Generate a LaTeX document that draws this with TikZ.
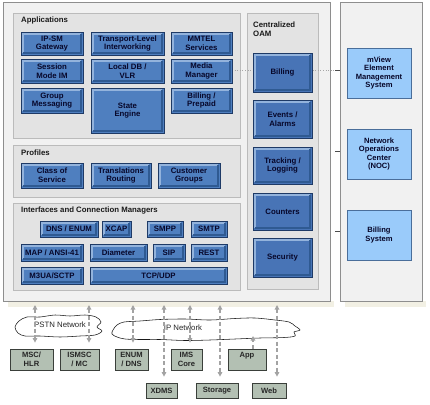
\documentclass[tikz,border=0pt]{standalone}
\usepackage{fontspec}
\setmainfont{Liberation Sans}
\usetikzlibrary{arrows.meta}
\definecolor{bblue}{HTML}{4F7FBF}
\definecolor{oblue}{HTML}{4874B6}
\definecolor{blight}{HTML}{93B3DC}
\definecolor{bshade}{HTML}{2F5A92}
\definecolor{bdark}{HTML}{1E3A66}
\definecolor{navy}{HTML}{07072A}
\definecolor{lblue}{HTML}{9ACBFA}
\definecolor{lborder}{HTML}{4A6E9A}
\definecolor{panelc}{HTML}{E3E3E3}
\definecolor{panelb}{HTML}{BBBBBB}
\definecolor{framec}{HTML}{F1F1F1}
\definecolor{frameb}{HTML}{8E8E8E}
\definecolor{shadowc}{HTML}{F2F0E4}
\definecolor{gfill}{HTML}{B3C0B3}
\definecolor{gborder}{HTML}{3A3F3A}
\definecolor{agray}{HTML}{A3A3A3}
\newcommand\BX[7]{\node[#1, minimum width={#5pt-#3pt}, minimum height={#6pt-#4pt}] (#2) at ({(#3+#5)/2},{(#4+#6)/2}) {#7};}
\tikzset{
  bevel/.style={path picture={
    \coordinate (ppnw) at ([shift={(1.8pt,-1.8pt)}]path picture bounding box.north west);
    \coordinate (ppse) at ([shift={(-1.8pt,1.8pt)}]path picture bounding box.south east);
    \draw[blight,line width=1.6pt] (ppnw |- ppse) -- (ppnw) -- (ppse |- ppnw);
    \draw[bshade,line width=1.6pt] (ppnw |- ppse) -- (ppse) -- (ppse |- ppnw);}},
  appbox/.style={draw=bdark, fill=bblue, line width=0.8pt, text=navy, bevel,
    font=\bfseries\fontsize{7.8}{8.6}\selectfont, align=center, inner sep=0pt},
  oambox/.style={appbox, fill=oblue},
  lbox/.style={draw=lborder, fill=lblue, line width=0.8pt, text=navy,
    font=\bfseries\fontsize{7.6}{8.6}\selectfont, align=center, inner sep=0pt},
  gbox/.style={draw=gborder, fill=gfill, line width=0.8pt, text=black!85,
    font=\bfseries\fontsize{7.6}{8.6}\selectfont, align=center, inner sep=0pt},
  panel/.style={draw=panelb, fill=panelc, line width=0.8pt, inner sep=0pt},
  framebox/.style={draw=frameb, fill=framec, line width=0.8pt, inner sep=0pt},
  ttl/.style={font=\bfseries\fontsize{7.8}{9}\selectfont, text=black!90, inner sep=0pt, align=left},
  arr/.style={draw=agray, line width=1.3pt, dash pattern=on 4pt off 2.5pt,
    {Triangle[width=4.5pt,length=4.5pt]}-{Triangle[width=4.5pt,length=4.5pt]}, shorten >=6pt},
  arru/.style={draw=agray, line width=1.3pt, dash pattern=on 4pt off 2.5pt,
    -{Triangle[width=4.5pt,length=4.5pt]}},
  dotl/.style={draw=black!35, line width=0.6pt, dotted},
  tickl/.style={draw=black!70, line width=0.6pt},
  cloudl/.style={draw=black!90, fill=white, line width=0.55pt},
  cltext/.style={font=\fontsize{7.8}{9}\selectfont, text=black!85, inner sep=0pt}
}
\begin{document}
\begin{tikzpicture}[x=1pt,y=-1pt]
\useasboundingbox[fill=white] (0,0) rectangle (430,404);
% outer frames
\fill[shadowc] (8,301) rectangle (334,307);
\fill[shadowc] (345,301) rectangle (426,307);
\BX{framebox}{fr}{3}{2}{330}{301}{}
\BX{framebox}{rp}{340}{2}{422}{301}{}
% panels
\BX{panel}{apps}{13}{13}{240}{138}{}
\BX{panel}{prof}{13}{145}{240}{197}{}
\BX{panel}{intf}{13}{203}{240}{290}{}
\BX{panel}{oam}{247}{13}{318}{289}{}
\node[ttl, anchor=west] (tapps) at (21,20.5) {Applications};
\node[ttl, anchor=west] (tprof) at (21,152.5) {Profiles};
\node[ttl, anchor=west] (tintf) at (21,210.5) {Interfaces and Connection Managers};
\node[ttl, anchor=north west] (toam) at (253,22) {Centralized\\OAM};
% dotted link and ticks
\coordinate (d0) at (232,70);
\coordinate (t1) at (335,70);
\coordinate (t2) at (335,151);
\coordinate (t3) at (335,231);
\draw[dotl] (d0) -- (t1);
\draw[tickl] (t1) -- (t1 -| rp.west);
\draw[tickl] (t2) -- (t2 -| rp.west);
\draw[tickl] (t3) -- (t3 -| rp.west);
% applications
\BX{appbox}{ipsm}{21}{32}{83}{55}{IP-SM\\Gateway}
\BX{appbox}{tli}{91}{32}{164}{55}{Transport-Level\\Interworking}
\BX{appbox}{mmtel}{171}{32}{232}{55}{MMTEL\\Services}
\BX{appbox}{smim}{21}{59}{83}{83}{Session\\Mode IM}
\BX{appbox}{ldb}{91}{59}{164}{83}{Local DB /\\VLR}
\BX{appbox}{mm}{171}{59}{232}{83}{Media\\Manager}
\BX{appbox}{gm}{21}{88}{83}{113}{Group\\Messaging}
\BX{appbox}{se}{91}{88}{164}{133}{State\\Engine}
\BX{appbox}{bp}{171}{88}{232}{113}{Billing /\\Prepaid}
% profiles
\BX{appbox}{cos}{21}{163}{83}{188}{Class of\\Service}
\BX{appbox}{tr}{91}{163}{151}{188}{Translations\\Routing}
\BX{appbox}{cg}{158}{163}{220}{188}{Customer\\Groups}
% interfaces
\BX{appbox}{dns}{40}{221}{98}{237}{DNS / ENUM}
\BX{appbox}{xcap}{102}{221}{131}{237}{XCAP}
\BX{appbox}{smpp}{147}{221}{183}{237}{SMPP}
\BX{appbox}{smtp}{191}{221}{227}{237}{SMTP}
\BX{appbox}{map}{21}{244}{83}{261}{MAP / ANSI-41}
\BX{appbox}{dia}{90}{244}{147}{261}{Diameter}
\BX{appbox}{sip}{153}{244}{185}{261}{SIP}
\BX{appbox}{rest}{191}{244}{227}{261}{REST}
\BX{appbox}{m3ua}{21}{267}{83}{284}{M3UA/SCTP}
\BX{appbox}{tcp}{90}{267}{227}{284}{TCP/UDP}
% OAM
\BX{oambox}{obill}{253}{53}{312}{92}{Billing}
\BX{oambox}{oev}{253}{100}{312}{138}{Events /\\Alarms}
\BX{oambox}{otr}{253}{147}{312}{184}{Tracking /\\Logging}
\BX{oambox}{ocnt}{253}{193}{312}{230}{Counters}
\BX{oambox}{osec}{253}{238}{312}{277}{Security}
% right panel
\BX{lbox}{mview}{347}{48}{411}{98}{mView\\Element\\Management\\System}
\BX{lbox}{noc}{347}{129}{411}{179}{Network\\Operations\\Center\\(NOC)}
\BX{lbox}{bsys}{347}{210}{411}{260}{Billing\\System}
% clouds
\draw[cloudl] plot[smooth cycle, tension=0.55] coordinates {(15,327) (19,321) (27,317) (40,317) (55,315) (70,316) (85,315) (96,317) (101,322) (97,327) (102,331) (95,335) (80,336) (60,337) (40,336) (25,336) (18,333)};
\node[cltext] (pstnl) at (60,325) {PSTN Network};
\draw[cloudl] plot[smooth cycle, tension=0.55] coordinates {(113,330) (117,325) (124,322) (140,321) (160,319.5) (185,319) (210,320) (235,318.5) (255,318) (275,320) (289,322) (295,326) (300,330) (294,332) (295,336) (284,337.5) (260,338) (235,339) (210,340) (185,340.5) (160,339.5) (140,339.5) (125,339) (117,337) (112,334)};
\node[cltext] (ipl) at (183,328) {IP Network};
% bottom boxes
\BX{gbox}{msc}{10}{349}{53}{370}{MSC/\\HLR}
\BX{gbox}{smsc}{60}{349}{99}{370}{ISMSC\\/ MC}
\BX{gbox}{enum}{115}{349}{148}{370}{ENUM\\/ DNS}
\BX{gbox}{ims}{171}{349}{202}{370}{IMS\\Core}
\BX{gbox}{app}{228}{349}{266}{370}{App\\\mbox{}}
\BX{gbox}{xdms}{146}{383}{177}{398}{XDMS}
\BX{gbox}{stor}{196}{383}{238}{398}{Storage}
\BX{gbox}{web}{252}{383}{286}{398}{Web}
% arrows
\coordinate (f1) at (35,305);
\coordinate (f2) at (89,305);
\coordinate (f3) at (133,305);
\coordinate (f4) at (164,305);
\coordinate (f5) at (190,305);
\coordinate (f6) at (220,305);
\coordinate (f7) at (253,336);
\coordinate (f8) at (277,305);
\draw[arr] (f1) -- (f1 |- msc.north);
\draw[arr] (f2) -- (f2 |- smsc.north);
\draw[arr] (f3) -- (f3 |- enum.north);
\draw[arr] (f4) -- (f4 |- xdms.north);
\draw[arr] (f5) -- (f5 |- ims.north);
\draw[arr] (f6) -- (f6 |- stor.north);
\draw[arru] (f7 |- app.north) -- (f7);
\draw[arr] (f8) -- (f8 |- web.north);
\end{tikzpicture}
\end{document}
